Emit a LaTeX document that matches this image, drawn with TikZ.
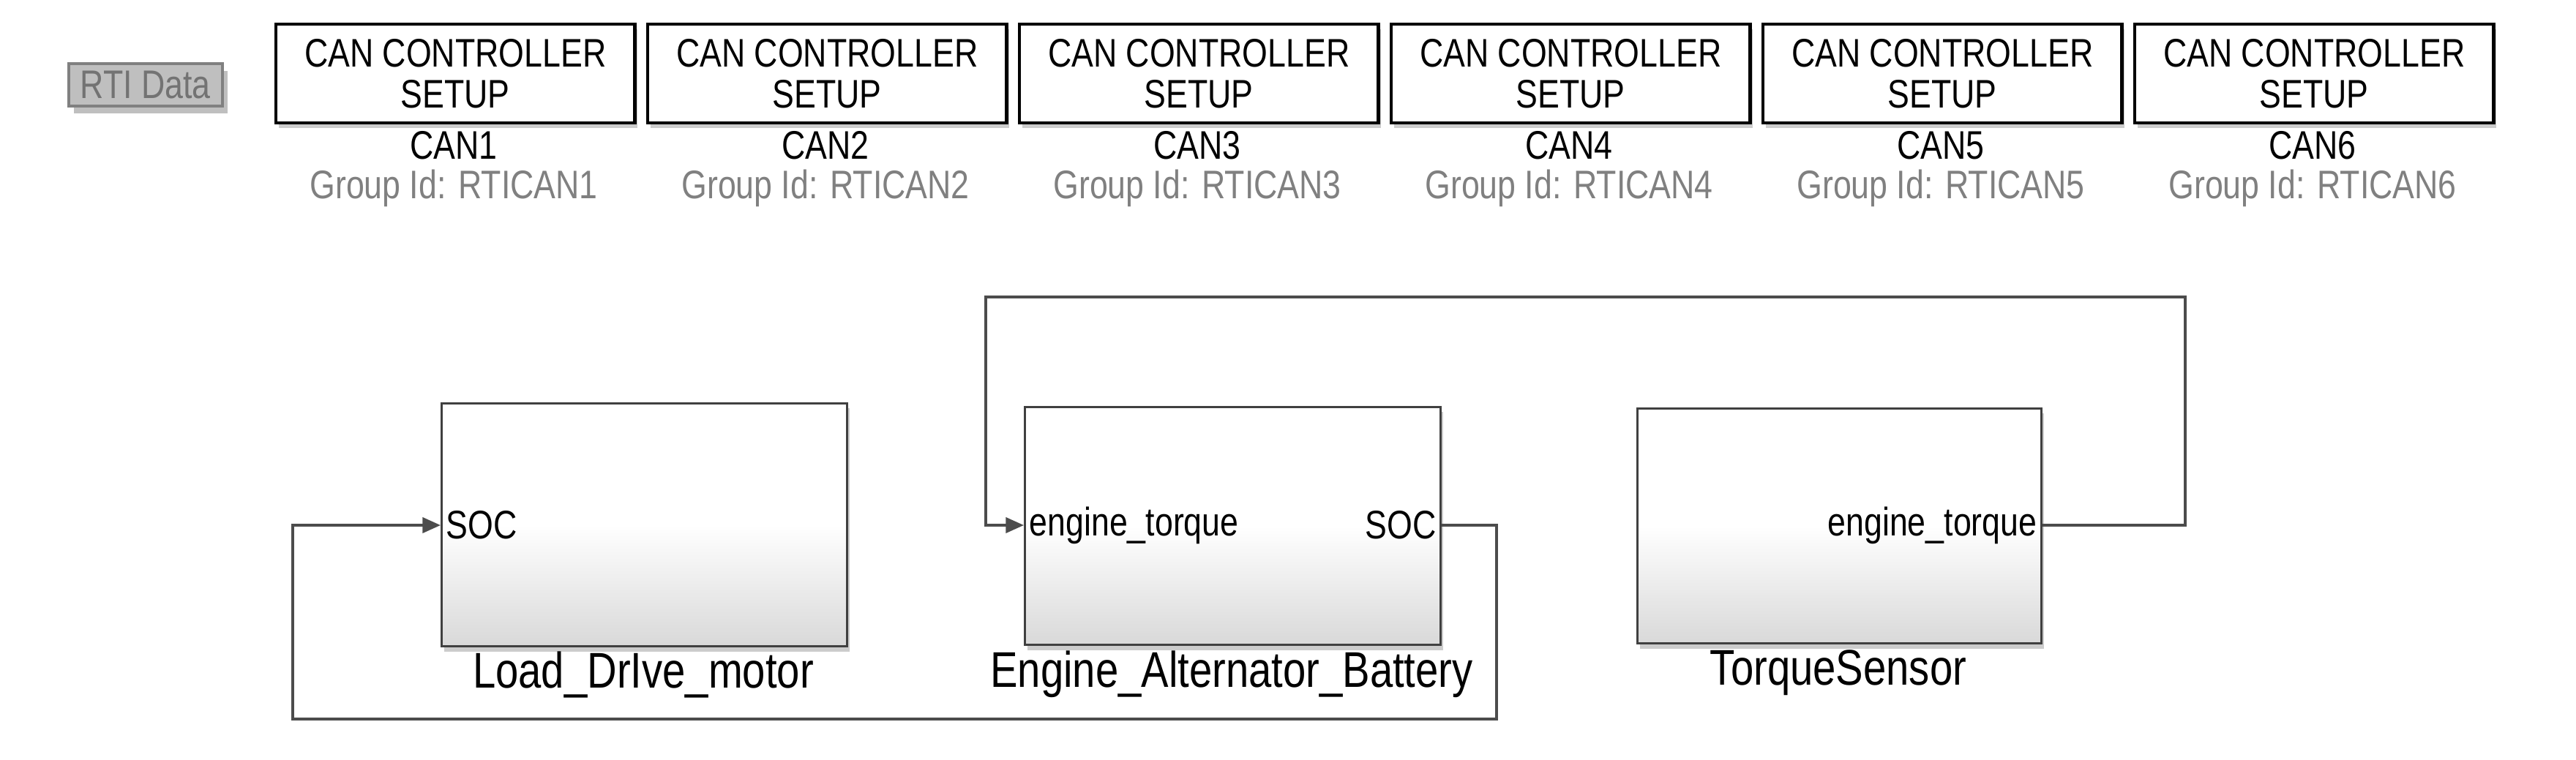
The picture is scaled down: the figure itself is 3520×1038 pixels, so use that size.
\documentclass[tikz,border=0pt]{standalone}
\usepackage{fontspec}
\setmainfont{Liberation Sans}[FakeStretch=0.82]
\usetikzlibrary{shadows,arrows.meta}
\begin{document}
\begin{tikzpicture}[x=0.01cm,y=-0.01cm,
  can/.style={draw=black,line width=1.2pt,fill=white,minimum width=4.9cm,minimum height=1.35cm,anchor=north west,align=center,font=\fontsize{15.5}{16}\selectfont,inner sep=0pt,
    drop shadow={shadow xshift=1pt,shadow yshift=-2pt,opacity=0.4}},
  blk/.style={draw=black!75,line width=0.8pt,top color=white,bottom color=black!15,middle color=white,anchor=north west,inner sep=0pt,
    drop shadow={shadow xshift=1pt,shadow yshift=-2pt,opacity=0.4}},
  lbl/.style={font=\fontsize{15.5}{16}\selectfont},
  glbl/.style={font=\fontsize{15.5}{16}\selectfont,text=black!50},
  blbl/.style={font=\fontsize{19.5}{20}\selectfont},
  wire/.style={draw=black!70,line width=1pt},
  arr/.style={wire,-{Triangle[length=7pt,width=6pt]}}]
\useasboundingbox (0,0) rectangle (3520,1038);
% RTI Data
\node[draw=black!50,fill=black!25,line width=1pt,minimum width=2.1cm,minimum height=0.58cm,anchor=north west,text=black!55,font=\fontsize{15.5}{16}\selectfont,inner sep=0pt,
  drop shadow={shadow xshift=2pt,shadow yshift=-3pt,opacity=0.5}] (rti) at (92,85) {RTI Data};
\foreach \i in {1,...,6}{
  \node[can] (c\i) at ({375+(\i-1)*508},31) {CAN CONTROLLER\\SETUP};
  \node[lbl] (n\i) at ({620+(\i-1)*508},199) {CAN\i};
  \node[glbl] (g\i) at ({620+(\i-1)*508},257) {Group Id: RTICAN\i};
}
% blocks
\node[blk,minimum width=5.54cm,minimum height=3.32cm] (load) at (602,550) {};
\node[blk,minimum width=5.68cm,minimum height=3.25cm] (eng) at (1399,555) {};
\node[blk,minimum width=5.52cm,minimum height=3.21cm] (tq) at (2236,557) {};
\node[blbl] (loadl) at (879,922) {Load\_DrIve\_motor};
\node[blbl] (engl) at (1683,922) {Engine\_Alternator\_Battery};
\node[blbl] (tql) at (2512,920) {TorqueSensor};
% ports
\coordinate (loadin) at (load.west |- 0,718);
\coordinate (engin) at (eng.west |- 0,718);
\coordinate (engout) at (eng.east |- 0,718);
\coordinate (tqout) at (tq.east |- 0,718);
\node[lbl,anchor=west,inner sep=2pt] (p1) at (loadin) {SOC};
\node[lbl,anchor=west,inner sep=2pt] (p2) at (engin) {engine\_torque};
\node[lbl,anchor=east,inner sep=2pt] (p3) at (engout) {SOC};
\node[lbl,anchor=east,inner sep=2pt] (p4) at (tqout) {engine\_torque};
% wires
\draw[arr] (tqout) -- (2986,718) -- (2986,406) -- (1347,406) -- (1347,718) -- (engin);
\draw[arr] (engout) -- (2045,718) -- (2045,983) -- (400,983) -- (400,718) -- (loadin);
\end{tikzpicture}
\end{document}
